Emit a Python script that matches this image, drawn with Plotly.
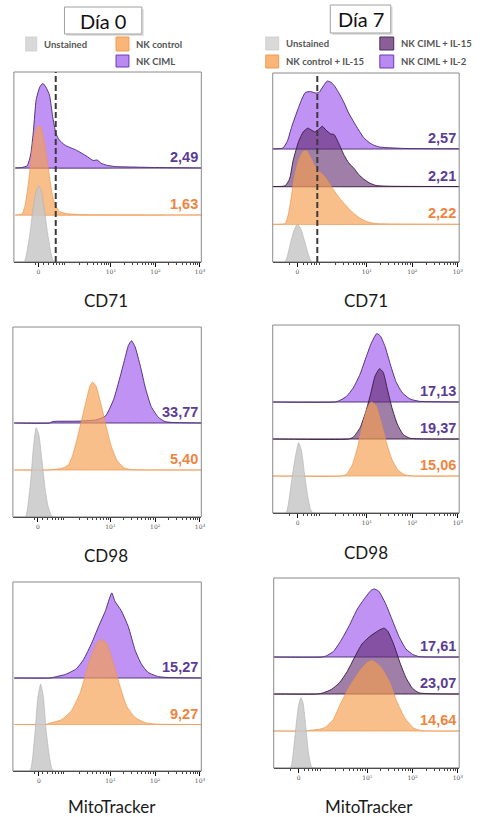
import math
import plotly.graph_objects as go

W, H = 485, 817

# ---------------- data (x in display decades: 1 = 10^1, 2 = 10^2, 3 = 10^3; y in lane heights) -------------
tick_text = ["0", "10<sup>1</sup>", "10<sup>2</sup>", "10<sup>3</sup>"]

# Día 0 – CD71
d0_cd71_unst_x = [-1.15, -0.95, -0.9, -0.82, -0.75, -0.68, -0.62, -0.56, -0.5, -0.42, -0.35, -0.3, -0.25, 3.05]
d0_cd71_unst_y = [0, 0, 0.15, 0.6, 1.15, 1.5, 1.62, 1.5, 1.15, 0.6, 0.2, 0.03, 0, 0]
d0_cd71_ctrl_x = [-1.15, -1.0, -0.93, -0.85, -0.78, -0.72, -0.65, -0.6, -0.55, -0.48, -0.4, -0.33, -0.25, -0.15, 0.0, 0.3, 3.05]
d0_cd71_ctrl_y = [0, 0.02, 0.2, 0.7, 1.3, 1.7, 1.88, 1.9, 1.8, 1.45, 0.95, 0.5, 0.2, 0.07, 0.03, 0.01, 0]
d0_cd71_ciml_x = [-1.15, -1.0, -0.88, -0.8, -0.74, -0.68, -0.6, -0.53, -0.46, -0.38, -0.31, -0.24, -0.18, -0.08, 0.0, 0.22, 0.44, 0.6, 0.69, 0.78, 0.9, 1.1, 1.5, 2.0, 3.05]
d0_cd71_ciml_y = [0, 0.01, 0.05, 0.3, 0.8, 1.45, 1.72, 1.8, 1.72, 1.55, 1.1, 0.75, 0.62, 0.52, 0.47, 0.38, 0.26, 0.16, 0.17, 0.1, 0.06, 0.03, 0.02, 0.01, 0]
d0_cd71_mfi = ["1,63", "2,49"]

# Día 7 – CD71
d7_cd71_unst_x = [-1.1, -0.8, -0.75, -0.68, -0.6, -0.53, -0.46, -0.38, -0.3, -0.24, -0.2, 3.05]
d7_cd71_unst_y = [0, 0, 0.15, 0.5, 0.85, 1.0, 0.9, 0.6, 0.25, 0.05, 0, 0]
d7_cd71_ctrl_x = [-1.1, -0.8, -0.72, -0.6, -0.5, -0.4, -0.33, -0.25, -0.15, -0.05, 0.07, 0.18, 0.3, 0.43, 0.57, 0.7, 0.85, 1.0, 1.2, 1.5, 3.05]
d7_cd71_ctrl_y = [0, 0.02, 0.3, 1.2, 1.7, 1.93, 1.95, 1.8, 1.55, 1.4, 1.27, 1.07, 0.86, 0.65, 0.46, 0.3, 0.16, 0.07, 0.02, 0.01, 0]
d7_cd71_il15_x = [-1.1, -0.8, -0.7, -0.62, -0.5, -0.4, -0.3, -0.22, -0.14, -0.06, 0.02, 0.1, 0.2, 0.28, 0.38, 0.5, 0.6, 0.72, 0.82, 0.93, 1.05, 1.2, 1.5, 3.05]
d7_cd71_il15_y = [0, 0.02, 0.2, 0.7, 1.2, 1.45, 1.55, 1.5, 1.45, 1.52, 1.6, 1.5, 1.4, 1.38, 1.15, 0.83, 0.63, 0.48, 0.32, 0.2, 0.1, 0.03, 0.01, 0]
d7_cd71_il2_x = [-1.1, -0.85, -0.75, -0.65, -0.52, -0.42, -0.35, -0.24, -0.12, -0.05, 0.05, 0.13, 0.22, 0.3, 0.4, 0.5, 0.6, 0.72, 0.82, 0.93, 1.05, 1.15, 1.28, 1.5, 1.87, 3.05]
d7_cd71_il2_y = [0, 0.02, 0.2, 0.6, 1.04, 1.35, 1.5, 1.52, 1.48, 1.5, 1.68, 1.8, 1.76, 1.65, 1.45, 1.22, 0.95, 0.7, 0.5, 0.3, 0.17, 0.1, 0.05, 0.03, 0.01, 0]
d7_cd71_mfi = ["2,22", "2,21", "2,57"]

# Día 0 – CD98
d0_cd98_unst_x = [-1.15, -0.9, -0.85, -0.78, -0.72, -0.66, -0.6, -0.53, -0.46, -0.4, -0.33, -0.28, 3.05]
d0_cd98_unst_y = [0, 0, 0.2, 0.8, 1.5, 1.9, 1.75, 1.2, 0.6, 0.25, 0.05, 0, 0]
d0_cd98_ctrl_x = [-1.15, -0.4, -0.3, -0.1, 0.05, 0.15, 0.29, 0.44, 0.54, 0.6, 0.68, 0.8, 0.91, 1.02, 1.15, 1.3, 1.45, 3.05]
d0_cd98_ctrl_y = [0, 0, 0.01, 0.03, 0.1, 0.3, 0.8, 1.4, 1.78, 1.87, 1.78, 1.35, 0.9, 0.5, 0.2, 0.05, 0.01, 0]
d0_cd98_ciml_x = [-1.15, -0.35, -0.3, 0.3, 0.7, 0.89, 1.07, 1.22, 1.33, 1.4, 1.47, 1.55, 1.67, 1.78, 1.91, 2.07, 2.22, 2.4, 3.05]
d0_cd98_ciml_y = [0, 0, 0.03, 0.04, 0.07, 0.15, 0.5, 1.0, 1.4, 1.65, 1.75, 1.62, 1.2, 0.75, 0.35, 0.12, 0.03, 0.01, 0]
d0_cd98_mfi = ["5,40", "33,77"]

# Día 7 – CD98
d7_cd98_unst_x = [-1.1, -0.78, -0.72, -0.64, -0.56, -0.5, -0.44, -0.37, -0.3, -0.24, -0.18, 3.05]
d7_cd98_unst_y = [0, 0, 0.3, 1.0, 1.6, 1.9, 1.7, 1.05, 0.45, 0.1, 0, 0]
d7_cd98_ctrl_x = [-1.1, 0.45, 0.55, 0.68, 0.8, 0.9, 1.0, 1.1, 1.2, 1.3, 1.42, 1.55, 1.68, 1.82, 2.0, 3.05]
d7_cd98_ctrl_y = [0, 0, 0.05, 0.3, 0.8, 1.35, 1.8, 2.0, 1.9, 1.5, 0.95, 0.45, 0.17, 0.04, 0, 0]
d7_cd98_il15_x = [-1.1, 0.6, 0.7, 0.85, 0.98, 1.08, 1.18, 1.28, 1.36, 1.45, 1.55, 1.67, 1.8, 1.95, 3.05]
d7_cd98_il15_y = [0, 0, 0.05, 0.3, 0.75, 1.2, 1.7, 1.9, 1.8, 1.35, 0.85, 0.4, 0.12, 0.02, 0]
d7_cd98_il2_x = [-1.1, 0.3, 0.4, 0.55, 0.7, 0.85, 0.98, 1.1, 1.22, 1.3, 1.4, 1.52, 1.64, 1.78, 1.95, 2.15, 3.05]
d7_cd98_il2_y = [0, 0, 0.04, 0.15, 0.38, 0.75, 1.2, 1.6, 1.85, 1.78, 1.5, 1.0, 0.55, 0.25, 0.08, 0.02, 0]
d7_cd98_mfi = ["15,06", "19,37", "17,13"]

# Día 0 – MitoTracker
d0_mito_unst_x = [-1.15, -0.8, -0.75, -0.68, -0.62, -0.56, -0.5, -0.44, -0.37, -0.31, -0.25, 3.05]
d0_mito_unst_y = [0, 0, 0.2, 0.9, 1.6, 1.87, 1.6, 0.9, 0.35, 0.05, 0, 0]
d0_mito_ctrl_x = [-1.15, -0.45, -0.35, -0.1, 0.13, 0.33, 0.51, 0.67, 0.78, 0.91, 1.07, 1.22, 1.36, 1.55, 1.78, 2.0, 3.05]
d0_mito_ctrl_y = [0, 0, 0.03, 0.1, 0.3, 0.7, 1.3, 1.7, 1.83, 1.75, 1.3, 0.8, 0.4, 0.15, 0.04, 0.01, 0]
d0_mito_ciml_x = [-1.15, -0.35, -0.25, 0.0, 0.24, 0.4, 0.58, 0.73, 0.89, 0.98, 1.03, 1.1, 1.24, 1.4, 1.55, 1.69, 1.84, 2.07, 2.3, 3.05]
d0_mito_ciml_y = [0, 0, 0.02, 0.08, 0.2, 0.4, 0.75, 1.1, 1.45, 1.72, 1.83, 1.65, 1.45, 1.1, 0.6, 0.3, 0.12, 0.03, 0.01, 0]
d0_mito_mfi = ["9,27", "15,27"]

# Día 7 – MitoTracker
d7_mito_unst_x = [-1.1, -0.7, -0.65, -0.58, -0.52, -0.47, -0.42, -0.36, -0.3, -0.24, -0.2, 3.05]
d7_mito_unst_y = [0, 0, 0.3, 1.1, 1.7, 1.9, 1.75, 1.1, 0.4, 0.05, 0, 0]
d7_mito_ctrl_x = [-1.1, -0.35, -0.26, -0.05, 0.07, 0.24, 0.41, 0.63, 0.85, 1.0, 1.11, 1.28, 1.48, 1.65, 1.83, 2.02, 2.2, 3.05]
d7_mito_ctrl_y = [0, 0, 0.02, 0.05, 0.1, 0.3, 0.75, 1.25, 1.65, 1.85, 1.9, 1.75, 1.35, 0.8, 0.35, 0.08, 0.01, 0]
d7_mito_il15_x = [-1.1, -0.1, 0.02, 0.2, 0.38, 0.55, 0.72, 0.88, 1.05, 1.2, 1.3, 1.37, 1.45, 1.58, 1.72, 1.85, 2.0, 2.15, 3.05]
d7_mito_il15_y = [0, 0, 0.03, 0.12, 0.3, 0.6, 1.0, 1.35, 1.55, 1.68, 1.75, 1.78, 1.7, 1.35, 0.85, 0.45, 0.15, 0.03, 0]
d7_mito_il2_x = [-1.1, 0.0, 0.09, 0.25, 0.42, 0.6, 0.78, 0.95, 1.08, 1.15, 1.25, 1.4, 1.55, 1.7, 1.85, 2.0, 2.15, 3.05]
d7_mito_il2_y = [0, 0, 0.03, 0.15, 0.45, 0.85, 1.3, 1.6, 1.8, 1.84, 1.78, 1.45, 1.0, 0.55, 0.22, 0.07, 0.01, 0]
d7_mito_mfi = ["14,64", "23,07", "17,61"]

# ---------------- styles ----------------
STY = {
    "unst": dict(fill="rgba(200,200,200,0.85)", line="rgba(175,175,175,1)", lw=0.6),
    "ctrl": dict(fill="rgba(246,158,78,0.66)", line="rgba(238,150,80,0.9)", lw=0.8),
    "ciml": dict(fill="rgba(160,95,238,0.68)", line="#452672", lw=0.9),
    "il15": dict(fill="rgba(95,40,110,0.6)", line="#35183f", lw=0.9),
    "il2": dict(fill="rgba(160,95,238,0.68)", line="#452672", lw=0.9),
}
NUM_COL = {"ctrl": "#ef8440", "ciml": "#5b3c93", "il15": "#5b3c93", "il2": "#5b3c93"}

panels = [
    dict(box=(14, 72, 203, 262), lane_px=47, xr=[-1.18, 3.03], zero=-0.63, dash=-0.24, title="CD71", tpos=(107, 300),
         curves=[(d0_cd71_ciml_x, d0_cd71_ciml_y, 2, "ciml"), (d0_cd71_ctrl_x, d0_cd71_ctrl_y, 1, "ctrl"),
                 (d0_cd71_unst_x, d0_cd71_unst_y, 0, "unst")],
         mfi=d0_cd71_mfi, mkeys=["ctrl", "ciml"]),
    dict(box=(275, 73, 463, 262), lane_px=37.7, xr=[-1.07, 3.03], zero=-0.53, dash=-0.09, title="CD71", tpos=(369, 300),
         curves=[(d7_cd71_il2_x, d7_cd71_il2_y, 3, "il2"), (d7_cd71_il15_x, d7_cd71_il15_y, 2, "il15"),
                 (d7_cd71_ctrl_x, d7_cd71_ctrl_y, 1, "ctrl"), (d7_cd71_unst_x, d7_cd71_unst_y, 0, "unst")],
         mfi=d7_cd71_mfi, mkeys=["ctrl", "il15", "il2"]),
    dict(box=(13, 327, 203, 517), lane_px=47, xr=[-1.18, 3.03], zero=-0.62, dash=None, title="CD98", tpos=(107, 555),
         curves=[(d0_cd98_ciml_x, d0_cd98_ciml_y, 2, "ciml"), (d0_cd98_ctrl_x, d0_cd98_ctrl_y, 1, "ctrl"),
                 (d0_cd98_unst_x, d0_cd98_unst_y, 0, "unst")],
         mfi=d0_cd98_mfi, mkeys=["ctrl", "ciml"]),
    dict(box=(275, 325, 463, 513), lane_px=37, xr=[-1.07, 3.03], zero=-0.52, dash=None, title="CD98", tpos=(369, 552),
         curves=[(d7_cd98_il2_x, d7_cd98_il2_y, 3, "il2"), (d7_cd98_il15_x, d7_cd98_il15_y, 2, "il15"),
                 (d7_cd98_ctrl_x, d7_cd98_ctrl_y, 1, "ctrl"), (d7_cd98_unst_x, d7_cd98_unst_y, 0, "unst")],
         mfi=d7_cd98_mfi, mkeys=["ctrl", "il15", "il2"]),
    dict(box=(13, 582, 203, 771), lane_px=46.5, xr=[-1.18, 3.03], zero=-0.6, dash=None, title="MitoTracker", tpos=(113, 806),
         curves=[(d0_mito_ciml_x, d0_mito_ciml_y, 2, "ciml"), (d0_mito_ctrl_x, d0_mito_ctrl_y, 1, "ctrl"),
                 (d0_mito_unst_x, d0_mito_unst_y, 0, "unst")],
         mfi=d0_mito_mfi, mkeys=["ctrl", "ciml"]),
    dict(box=(276, 578, 463, 768), lane_px=37, xr=[-1.07, 3.03], zero=-0.52, dash=None, title="MitoTracker", tpos=(372, 806),
         curves=[(d7_mito_il2_x, d7_mito_il2_y, 3, "il2"), (d7_mito_il15_x, d7_mito_il15_y, 2, "il15"),
                 (d7_mito_ctrl_x, d7_mito_ctrl_y, 1, "ctrl"), (d7_mito_unst_x, d7_mito_unst_y, 0, "unst")],
         mfi=d7_mito_mfi, mkeys=["ctrl", "il15", "il2"]),
]

minor_vals = [d + math.log10(k) for d in (-1, 0, 1, 2) for k in range(2, 10)]

fig = go.Figure()
layout = dict(width=W, height=H, margin=dict(l=0, r=0, t=0, b=0), showlegend=False,
              paper_bgcolor="white", plot_bgcolor="white")
shapes, annos = [], []

def px(x):
    return x / W

def py(y):
    return 1 - y / H

for i, p in enumerate(panels, start=1):
    sfx = "" if i == 1 else str(i)
    xa, ya = "x" + sfx, "y" + sfx
    l, t, r, b = p["box"]
    ymax = (b - t) / p["lane_px"]
    layout["xaxis" + sfx] = dict(
        domain=[px(l), px(r)], anchor=ya, range=p["xr"], showgrid=False, zeroline=False,
        showline=True, linecolor="#111", linewidth=1.2, ticks="outside", ticklen=4, tickwidth=1,
        tickcolor="#111", tickvals=[p["zero"], 1, 2, 3], ticktext=tick_text,
        tickfont=dict(size=6, color="#555", family="DejaVu Serif"),
        minor=dict(tickvals=minor_vals, ticks="outside", ticklen=2.2, tickwidth=0.8, tickcolor="#111"),
        fixedrange=True,
    )
    layout["yaxis" + sfx] = dict(domain=[py(b), py(t)], anchor=xa, range=[0, ymax], visible=False, fixedrange=True)
    # frame
    shapes.append(dict(type="rect", xref=xa + " domain", yref=ya + " domain", x0=0, x1=1, y0=0, y1=1,
                       line=dict(color="#8a8a8a", width=1), layer="above"))
    for xs, ys, lane, key in p["curves"]:
        s = STY[key]
        fx = list(xs) + [xs[-1], xs[0]]
        fy = [lane + v for v in ys] + [lane, lane]
        fig.add_trace(go.Scatter(x=fx, y=fy, xaxis=xa, yaxis=ya, mode="lines", fill="toself",
                                 fillcolor=s["fill"], line=dict(color=s["line"], width=s["lw"], shape="spline", smoothing=0.5),
                                 hoverinfo="skip"))
    if p["dash"] is not None:
        shapes.append(dict(type="line", xref=xa, yref=ya + " domain", x0=p["dash"], x1=p["dash"], y0=0, y1=1,
                           line=dict(color="#3a3a3a", width=2, dash="6px,3px"), layer="above"))
    for lane, (txt, key) in enumerate(zip(p["mfi"], p["mkeys"]), start=1):
        annos.append(dict(text="<b>%s</b>" % txt, xref=xa + " domain", yref=ya, x=0.995, y=lane + 11 / p["lane_px"],
                          xanchor="right", yanchor="middle", showarrow=False,
                          font=dict(size=14.5, color=NUM_COL[key], family="Liberation Sans")))
    annos.append(dict(text=p["title"], xref="paper", yref="paper", x=px(p["tpos"][0]), y=py(p["tpos"][1]),
                      xanchor="center", yanchor="middle", showarrow=False,
                      font=dict(size=17, color="#1a1a1a", family="Lato")))

# Day header boxes
day_boxes = [("Día 0", (65, 7, 143, 34), (104, 21)), ("Día 7", (333, 5, 394, 33), (364, 19))]
for txt, (x0, y0, x1, y1), (tx, ty) in day_boxes:
    shapes.append(dict(type="rect", xref="paper", yref="paper", x0=px(x0 + 2), x1=px(x1 + 2), y0=py(y1 + 2), y1=py(y0 + 2),
                       line=dict(width=0), fillcolor="rgba(0,0,0,0.12)"))
    shapes.append(dict(type="rect", xref="paper", yref="paper", x0=px(x0), x1=px(x1), y0=py(y1), y1=py(y0),
                       line=dict(color="#a0a0a0", width=1), fillcolor="white"))
    annos.append(dict(text=txt, xref="paper", yref="paper", x=px(tx), y=py(ty), xanchor="center", yanchor="middle",
                      showarrow=False, font=dict(size=20, color="#111", family="Lato")))

# Legends
legend_items = [
    ("Unstained", (26, 37, 37, 51), "#d9d9d9", "#d0d0d0"),
    ("NK control", (117, 37, 130, 51), "#f9b677", "#ef9a52"),
    ("NK CIML", (117, 55, 130, 67), "#b88af2", "#6a3ab0"),
    ("Unstained", (268, 37, 281, 50), "#d9d9d9", "#d0d0d0"),
    ("NK CIML + IL-15", (383, 37, 397, 50), "#8c5e96", "#4a2a5a"),
    ("NK control + IL-15", (268, 55, 281, 68), "#f9b677", "#ef9a52"),
    ("NK CIML + IL-2", (383, 55, 397, 68), "#b88af2", "#6a3ab0"),
]
for txt, (x0, y0, x1, y1), fc, lc in legend_items:
    shapes.append(dict(type="rect", xref="paper", yref="paper", x0=px(x0), x1=px(x1), y0=py(y1), y1=py(y0),
                       line=dict(color=lc, width=1), fillcolor=fc))
    annos.append(dict(text="<b>%s</b>" % txt, xref="paper", yref="paper", x=px(x1 + 5), y=py((y0 + y1) / 2),
                      xanchor="left", yanchor="middle", showarrow=False,
                      font=dict(size=9.5, color="#555", family="Lato")))

layout["shapes"] = shapes
layout["annotations"] = annos
fig.update_layout(**layout)
fig.write_html("out.html", config={"displayModeBar": False, "staticPlot": True},
               post_script="document.body.style.margin='0';document.body.style.overflow='hidden';")
